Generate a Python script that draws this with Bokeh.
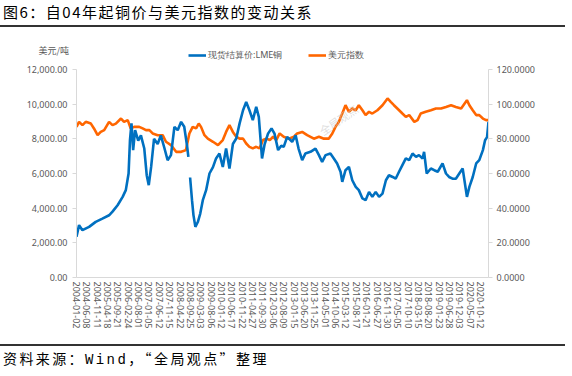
import pandas as pd
from bokeh.plotting import figure
from bokeh.layouts import column
from bokeh.models import (LinearAxis, Range1d, FixedTicker, DatetimeTickFormatter,
                          NumeralTickFormatter, Label, Legend, LegendItem, Title,
                          ColumnDataSource, Div)
from bokeh.embed import file_html
from bokeh.resources import INLINE

# ---------------- data ----------------
copper_dates = [
    "2004-01-02", "2004-02-10", "2004-04-01", "2004-07-11", "2004-10-19", "2005-01-29",
    "2005-05-10", "2005-07-01", "2005-09-16", "2005-12-02", "2006-01-19", "2006-03-02",
    "2006-03-23", "2006-04-15", "2006-05-10", "2006-06-09", "2006-07-26", "2006-09-05",
    "2006-10-26", "2006-12-02", "2007-01-02", "2007-02-07", "2007-03-23", "2007-05-17",
    "2007-07-04", "2007-08-25", "2007-10-15", "2007-12-05", "2008-01-26", "2008-03-16",
    "2008-05-07", "2008-06-23", "2008-08-07", "2008-08-25", "2008-09-05", "2008-09-20",
    "2008-10-19", "2008-11-10", "2008-12-09", "2009-01-15", "2009-02-21", "2009-04-01",
    "2009-05-21", "2009-07-11", "2009-09-02", "2009-10-19", "2009-12-09", "2010-01-29",
    "2010-03-20", "2010-05-10", "2010-07-01", "2010-08-21", "2010-10-11", "2010-12-02",
    "2011-01-19", "2011-03-09", "2011-04-29", "2011-06-20", "2011-07-29", "2011-09-16",
    "2011-10-26", "2011-12-16", "2012-02-07", "2012-03-23", "2012-05-17", "2012-07-04",
    "2012-08-10", "2012-10-01", "2012-12-16", "2013-02-07", "2013-03-23", "2013-05-17",
    "2013-07-04", "2013-09-20", "2013-12-05", "2014-01-26", "2014-03-16", "2014-05-07",
    "2014-07-19", "2014-09-09", "2014-10-29", "2014-12-20", "2015-01-15", "2015-03-05",
    "2015-04-26", "2015-06-16", "2015-08-07", "2015-09-23", "2015-11-17", "2016-01-04",
    "2016-02-25", "2016-04-15", "2016-06-05", "2016-07-26", "2016-09-16", "2016-11-07",
    "2016-12-23", "2017-02-17", "2017-04-04", "2017-05-25", "2017-07-15", "2017-09-05",
    "2017-10-26", "2017-12-16", "2018-02-07", "2018-03-23", "2018-05-17", "2018-06-09",
    "2018-07-19", "2018-09-20", "2018-11-10", "2019-01-02", "2019-03-16", "2019-05-07",
    "2019-06-23", "2019-08-14", "2019-10-04", "2019-11-25", "2020-01-15", "2020-03-20",
    "2020-04-26", "2020-06-16", "2020-08-07", "2020-09-23", "2020-11-17", "2020-12-20",
    "2021-01-19", "2021-02-10",
]
copper_values = [
    2350, 3020, 2730, 2920, 3210, 3400,
    3590, 3800, 4170, 4650, 5040, 6000,
    7920, 8890, 7350, 8500, 7900, 8200,
    7440, 5900, 5330, 6380, 8000, 7700,
    8200, 7500, 6770, 7060, 8690, 8500,
    8980, 8700, 7540, 6960, float("nan"), 5770,
    4460, 3600, 2920, 3200, 3690, 4460,
    5040, 6000, 6370, 6870, 7150, 6380,
    7440, 6290, 7700, 8020, 8890, 9650,
    10130, 9650, 9080, 9840, 9270, 6870,
    7700, 8300, 8600, 8300, 7350, 7600,
    7540, 8110, 7830, 8200, 7440, 6770,
    7150, 7250, 7440, 7060, 6670, 7060,
    7150, 6870, 6580, 6100, 5520, 6190,
    6380, 5610, 5230, 5040, 4560, 4460,
    4940, 4650, 4940, 4650, 4840, 5610,
    5900, 5800, 5700, 6100, 6480, 6870,
    6770, 7150, 6960, 7060, 6870, 7250,
    6000, 6290, 6190, 6100, 6580, 6000,
    5800, 5700, 5700, 6000, 6290, 4650,
    5230, 5800, 6580, 6770, 7350, 7920,
    8100, 8980,
]

dxy_dates = [
    "2004-01-02", "2004-02-10", "2004-04-01", "2004-05-21", "2004-08-07", "2004-09-23",
    "2004-11-17", "2005-01-04", "2005-02-25", "2005-05-10", "2005-07-01", "2005-08-21",
    "2005-11-07", "2005-12-23", "2006-02-17", "2006-04-04", "2006-05-25", "2006-08-10",
    "2006-10-01", "2006-11-21", "2007-01-12", "2007-03-02", "2007-05-17", "2007-08-01",
    "2007-09-20", "2007-12-05", "2008-02-21", "2008-05-07", "2008-07-19", "2008-09-09",
    "2008-10-29", "2008-12-20", "2009-01-29", "2009-03-05", "2009-04-26", "2009-06-16",
    "2009-09-02", "2009-11-17", "2010-01-29", "2010-03-20", "2010-05-10", "2010-07-01",
    "2010-08-21", "2010-10-11", "2010-12-02", "2011-01-19", "2011-03-09", "2011-04-29",
    "2011-06-20", "2011-08-10", "2011-10-01", "2011-11-21", "2012-01-12", "2012-03-02",
    "2012-04-19", "2012-06-09", "2012-08-10", "2012-10-26", "2013-01-12", "2013-03-02",
    "2013-05-17", "2013-08-01", "2013-11-10", "2014-01-26", "2014-04-12", "2014-06-23",
    "2014-08-17", "2014-10-04", "2014-11-25", "2015-01-15", "2015-03-05", "2015-04-26",
    "2015-06-16", "2015-08-07", "2015-09-23", "2015-11-17", "2016-01-04", "2016-02-25",
    "2016-04-15", "2016-07-01", "2016-09-16", "2016-12-02", "2017-01-19", "2017-03-09",
    "2017-04-29", "2017-07-15", "2017-09-05", "2017-10-26", "2018-01-12", "2018-03-02",
    "2018-04-19", "2018-07-04", "2018-09-20", "2018-12-05", "2019-02-21", "2019-05-07",
    "2019-07-23", "2019-10-04", "2019-12-23", "2020-03-20", "2020-04-26", "2020-06-16",
    "2020-08-07", "2020-09-23", "2020-11-17", "2021-01-04", "2021-02-10",
]
dxy_values = [
    86.9, 89.8, 87.9, 89.8, 88.8, 86.0,
    82.1, 84.0, 85.0, 89.8, 87.9, 88.8,
    91.7, 89.8, 90.8, 86.0, 86.9, 86.9,
    86.0, 85.0, 85.0, 83.1, 82.1, 82.1,
    78.3, 76.4, 72.5, 72.5, 73.5, 83.1,
    86.9, 86.0, 88.8, 86.9, 82.1, 80.1,
    78.3, 76.4, 79.3, 84.0, 87.9, 84.0,
    81.2, 80.1, 80.1, 77.3, 75.4, 74.5,
    75.4, 74.5, 79.3, 80.1, 79.3, 81.2,
    79.3, 83.1, 81.2, 80.1, 81.2, 83.1,
    84.0, 82.1, 80.1, 81.2, 80.1, 80.1,
    83.1, 86.9, 89.8, 94.6, 99.4, 95.6,
    97.5, 96.5, 99.4, 96.5, 93.7, 95.6,
    94.6, 96.5, 99.4, 103.3, 101.3, 99.4,
    97.5, 94.6, 92.7, 93.7, 89.8, 90.8,
    94.6, 95.6, 96.5, 97.5, 97.5, 98.4,
    99.4, 98.4, 97.5, 102.3, 99.4, 96.5,
    93.7, 93.7, 91.7, 90.8, 90.8,
]

x_tick_labels = [
    "2004-01-02", "2004-06-08", "2004-11-11", "2005-04-18", "2005-09-21", "2006-02-24",
    "2006-08-01", "2007-01-05", "2007-06-12", "2007-11-15", "2008-04-22", "2008-09-25",
    "2009-03-03", "2009-08-06", "2010-01-12", "2010-06-17", "2010-11-22", "2011-04-27",
    "2011-09-30", "2012-03-06", "2012-08-09", "2013-01-15", "2013-06-20", "2013-11-25",
    "2014-05-01", "2014-10-06", "2015-03-12", "2015-08-17", "2016-01-21", "2016-06-27",
    "2016-11-30", "2017-05-05", "2017-10-10", "2018-03-15", "2018-08-20", "2019-01-23",
    "2019-06-28", "2019-12-03", "2020-05-07", "2020-10-12",
]
left_ticks = [0, 2000, 4000, 6000, 8000, 10000, 12000]
right_ticks = [0, 20, 40, 60, 80, 100, 120]

title_text = "图6：自04年起铜价与美元指数的变动关系"
source_parts = ["资料来源：", "Wind", "，“全局观点”整理"]
unit_text = "美元/吨"
series_names = ["现货结算价:LME铜", "美元指数"]

# ---------------- layout constants (pixels) ----------------
BLUE = "#0070C0"
ORANGE = "#FF6600"
GREY = "#595959"
AXIS = "#D9D9D9"
FONT = "Noto Sans"

W = 572
TITLE_H = 30
FOOT_H = 34
FIG_H = 376 - TITLE_H - FOOT_H          # 312
FRAME_TOP = 19                          # frame top inside the figure
AXIS_TOP = 39                           # where the 12000 / 120 tick sits
FRAME_BOTTOM = 247                      # zero line inside the figure
frame_h = FRAME_BOTTOM - FRAME_TOP
axis_h = FRAME_BOTTOM - AXIS_TOP
left_max, right_max = left_ticks[-1], right_ticks[-1]

cu = ColumnDataSource(dict(x=pd.to_datetime(copper_dates), y=copper_values))
dx = ColumnDataSource(dict(x=pd.to_datetime(dxy_dates), y=dxy_values))

x_start = pd.Timestamp(copper_dates[0])
x_end = pd.Timestamp(copper_dates[-1])

p = figure(width=W, height=FIG_H, x_axis_type="datetime",
           x_range=Range1d(x_start, x_end),
           y_range=Range1d(0, left_max * frame_h / axis_h),
           output_backend="svg", toolbar_location=None,
           min_border_left=76, min_border_right=84, min_border_top=FRAME_TOP,
           min_border_bottom=FIG_H - FRAME_BOTTOM, background_fill_color="white",
           border_fill_color="white", outline_line_color=None, margin=0)
p.extra_y_ranges = {"dxy": Range1d(0, right_max * frame_h / axis_h)}
p.grid.visible = False

tick_ms = [int(t.value // 10**6) for t in pd.to_datetime(x_tick_labels)]
xa = p.xaxis[0]
xa.ticker = FixedTicker(ticks=tick_ms, minor_ticks=[])
fmt = "%Y-%m-%d"
xa.formatter = DatetimeTickFormatter(microseconds=fmt, milliseconds=fmt, seconds=fmt,
                                     minsec=fmt, minutes=fmt, hourmin=fmt, hours=fmt,
                                     days=fmt, months=fmt, years=fmt)
xa.major_label_orientation = "vertical"
xa.major_tick_out = 0
xa.major_tick_in = 0
xa.minor_tick_out = 0
xa.axis_line_color = AXIS
xa.major_label_text_color = GREY
xa.major_label_text_font = FONT
xa.major_label_text_font_size = "9px"
xa.major_label_standoff = 4

ya = p.yaxis[0]
ya.ticker = FixedTicker(ticks=left_ticks, minor_ticks=[])
ya.formatter = NumeralTickFormatter(format="0,0.00")
ya.bounds = (0, left_max)
ya.axis_line_color = AXIS
ya.major_tick_line_color = AXIS
ya.major_tick_out = 4
ya.major_tick_in = 0
ya.minor_tick_out = 0
ya.major_label_text_color = GREY
ya.major_label_text_font = FONT
ya.major_label_text_font_size = "9px"
ya.major_label_standoff = 5

yr = LinearAxis(y_range_name="dxy", ticker=FixedTicker(ticks=right_ticks, minor_ticks=[]),
                formatter=NumeralTickFormatter(format="0.0000"), bounds=(0, right_max))
yr.axis_line_color = AXIS
yr.major_tick_line_color = AXIS
yr.major_tick_out = 4
yr.major_tick_in = 0
yr.minor_tick_out = 0
yr.major_label_text_color = GREY
yr.major_label_text_font = FONT
yr.major_label_text_font_size = "9px"
yr.major_label_standoff = 4
p.add_layout(yr, "right")

r_dxy = p.line("x", "y", source=dx, y_range_name="dxy", color=ORANGE, line_width=2.6)
r_cu = p.line("x", "y", source=cu, color=BLUE, line_width=2.6)

legend = Legend(items=[LegendItem(label=series_names[0], renderers=[r_cu]),
                       LegendItem(label=series_names[1], renderers=[r_dxy])],
                orientation="horizontal", location=(112, frame_h - 13),
                padding=0, margin=0, spacing=26, glyph_width=18, glyph_height=12,
                label_height=12, label_standoff=2, border_line_color=None,
                background_fill_alpha=0, label_text_font=FONT,
                label_text_font_size="9px", label_text_color=GREY)
p.add_layout(legend, "center")

unit = Title(text=unit_text, align="left", offset=-38, standoff=-15,
             text_font="Noto Sans CJK SC", text_font_size="9px",
             text_font_style="normal", text_color=GREY)
p.add_layout(unit, "above")

p.add_layout(Label(x=262, y=frame_h - 70, x_units="screen", y_units="screen", text="全局观点",
                   angle=0.6, text_font="Noto Sans CJK SC", text_font_size="11px",
                   text_color="#C8C8C8", text_alpha=0.6, text_baseline="middle",
                   text_align="center"))

title_div = Div(
    text=("<div style=\"font-family:'Noto Sans CJK SC';font-size:15px;color:#000;"
          "letter-spacing:1.5px;line-height:22px;padding:1px 0 0 3px;white-space:nowrap;\">"
          + title_text + "</div>"
          "<div style=\"height:2px;background:#333;width:565px;margin-top:2px;\"></div>"),
    width=W, height=TITLE_H, margin=0)
foot_div = Div(
    text=("<div style=\"height:2px;background:#333;width:565px;margin-top:2px;\"></div>"
          "<div style=\"font-family:'Noto Sans CJK SC';font-size:14px;letter-spacing:2.4px;"
          "color:#000;line-height:18px;padding:3px 0 0 3px;white-space:nowrap;\">"
          + source_parts[0]
          + "<span style=\"font-family:'Liberation Mono';\">" + source_parts[1] + "</span>"
          + source_parts[2] + "</div>"),
    width=W, height=FOOT_H, margin=0)

layout = column(title_div, p, foot_div, spacing=0, margin=0)
open("out.html", "w").write(file_html(layout, INLINE))
